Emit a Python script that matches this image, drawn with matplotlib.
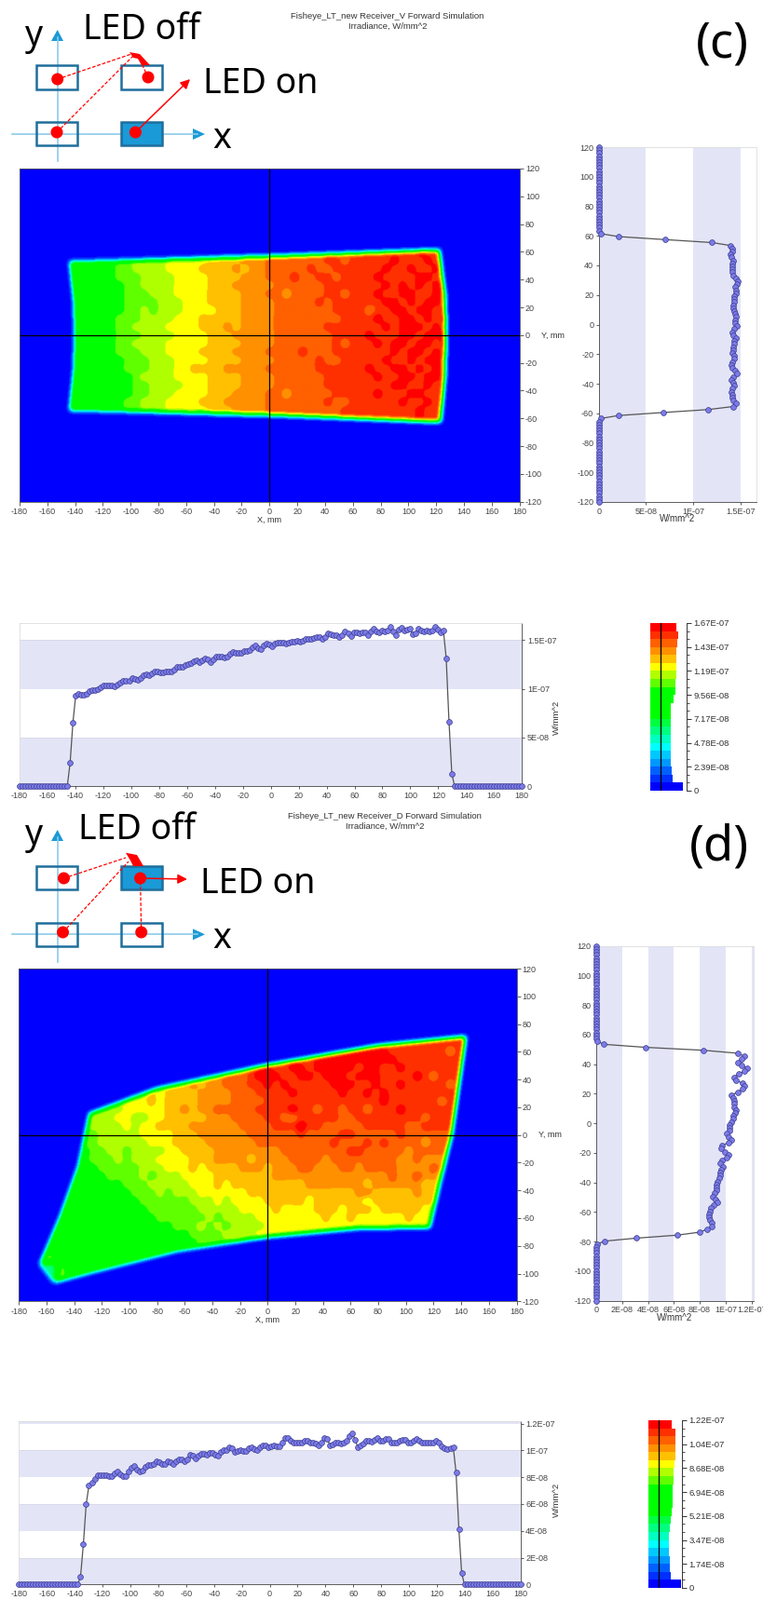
import numpy as np
import matplotlib
matplotlib.use('Agg')
import matplotlib.pyplot as plt
from matplotlib.colors import ListedColormap, BoundaryNorm
from matplotlib.path import Path
from matplotlib.patches import Ellipse, Rectangle, Polygon
from matplotlib.ticker import FixedLocator, FixedFormatter

W, H = 820, 1718
TICKFONT = 'Liberation Sans'
plt.rcParams['font.family'] = [TICKFONT, 'DejaVu Sans']
plt.rcParams['axes.unicode_minus'] = False

BAND_COLORS = ['#0000FF', '#0030FF', '#0060FF', '#0098FF', '#00C8FF', '#00FFFF', '#00FFC0', '#00FF80', '#00FF40',
               '#00FF00', '#00FF00', '#00FF00', '#00FF00', '#60FF00', '#B0FF00', '#FFFF00', '#FFC000', '#FF9000',
               '#FF6000', '#FF3000', '#FF0000']

# ---------- panel (c) values ----------
MAP_C_X0, MAP_C_Y0 = -150, 66     # mm of first column / first row, 6 mm steps
MAP_C_ROWS = [
 "cccccc cdddee efffff gggghh hiiiii iijiji jjjjjj jkjjkk",
 "cccccc cdddee efffff gggghh hiiiii iijiji jjjjjj jkjjkk",
 "cccccc cddeee efffff gggghh hiiiii iijjij jjjjkj jjkjkk",
 "cccccc cddeee effffg ggghgh hiiiii jiijjj jjjkjj kjjkjk",
 "cccccc cdddee eeffff gggghh hiiiji ijjijj jjkjjj jkkjjk",
 "cccccc ccddee eeffff ggghhh hhiiii iijjjj jjjkjk jkjkkj",
 "cccccc ccddde eeffff gggghh hiihii iijjij jjkjjk kjjkjk",
 "cccccc ccdddd eeefff gggghh hhiiii ijijjj jjjkkj kjkkjk",
 "cccccc ccdded eeefff fggghh hhiiii iiijjj jijjkk jkkjkk",
 "cccccc cdddee eefffg gggghh hhiiii iiiijj jjkjjk kjkjkk",
 "cccccc cddeee effffg gghghh hhiiii iijjjj jjjkjk kkjkjk",
 "cccccc cdddee eeffff ggghhh hhiiii iiijjj jkjjjk kjkkkk",
 "cccccc cddeee efffff gggghh hhiiii iiijij jjkjkk jkkjkk",
 "cccccc cdddee effffg ggghhh hiiiij iiijjj jjjjkj kkjkjk",
 "cccccc ccddde eeffff gggghh hhiiii ijiijj jjjkjj kjkkjk",
 "cccccc ccddde eeffgg gghhhh hiiiii ijjjjj jkjjkk jkjkjk",
 "cccccc cccdee eeffff gggghh hhiiii iijjjj jjkjjk kjkkjj",
 "cccccc cccdde eeefff gggghh hhiiii iijjjj jjjjkk jjkjkk",
 "cccccc cccdde eeffff ggghhh hiihii iiijjj jjkjjj kkjjkk",
 "cccccc ccddee effffg gghhhh hiiiii iijiij jjjjjk jjkjkk",
 "cccccc ccddee efffff ggghhh hiiiii iiiijj jjjjjj jkjjjk",
 "cccccc ccddee efffff ggghhh hiiiii iiiijj jjjjjj jkjjjk",
 "cccccc ccddee efffff ggghhh hiiiii iiiijj jjjjjj jkjjjk",
]
OUTLINE_C = [(-144, 53), (-141, 25), (-140, 0), (-141, -25), (-144, -54), (0, -57.5), (123, -62.5), (126, -30),
             (127, 0), (126, 30), (122, 61.5), (0, 57)]

PROFILE_X_C = [0.0] * 18 + [2.4, 6.5, 9.3,
 9.45, 9.35, 9.35, 9.5, 9.8, 9.9, 9.9, 9.95, 10.1, 10.3, 10.35, 10.35, 10.3, 10.25, 10.4, 10.65, 10.85,
 10.8, 10.8, 11.1, 11.05, 10.95, 11.1, 11.4, 11.5, 11.4, 11.55, 11.75, 11.75, 11.65, 11.7, 11.75, 11.8,
 11.8, 12.0, 12.2, 12.25, 12.2, 12.4, 12.5, 12.65, 12.85, 12.95, 12.75, 12.9, 13.1, 13.0, 12.75, 13.0,
 13.3, 13.3, 13.25, 13.2, 13.3, 13.6, 13.8, 13.7, 13.7, 13.7, 13.85, 13.9, 13.95, 14.2, 14.4, 14.15, 14.1,
 14.45, 14.6, 14.5, 14.35, 14.6, 14.7, 14.75, 14.7, 14.65, 14.7, 14.8, 14.85, 14.9, 14.8, 14.9, 15.1, 15.15,
 15.1, 15.2, 15.3, 15.25, 15.1, 15.3, 15.65, 15.6, 15.5, 15.45, 15.3, 15.45, 15.85, 15.7, 15.4, 15.75, 15.75, 15.7,
 15.75, 15.75, 15.45, 15.85, 16.2, 15.85, 15.75, 15.95, 15.85, 15.95, 16.3, 15.85, 15.5, 16.1, 16.25, 16.0, 16.1,
 16.15, 15.6, 15.7, 16.15, 16.0, 15.9, 16.0, 15.9, 16.0, 16.3, 16.1, 15.8, 16.0, 13.1, 6.6, 1.3]
PROFILE_Y_C = [0.0] * 29 + [0.2, 2.1, 7.0, 12.0,
 13.95, 14.15, 14.15, 13.95, 14.0, 14.2, 14.15, 14.15, 14.15, 14.15, 14.2, 14.5, 14.7, 14.6, 14.4, 14.5, 14.5, 14.3,
 14.3, 14.3, 14.2, 14.25, 14.35, 14.4, 14.5, 14.4, 14.45, 14.6, 14.3, 14.1, 14.2, 14.5, 14.3, 14.3, 14.2, 14.2,
 14.1, 14.35, 14.35, 14.1, 14.0, 14.1, 14.4, 14.6, 14.25, 14.05, 14.2, 14.3, 14.1, 14.0, 14.1, 14.15, 14.2, 14.5,
 14.2, 11.6, 6.8, 2.1, 0.2]
COLORBAR_C = [85, 90, 86, 85, 85, 85, 83, 82, 82, 76, 67, 67, 67, 66, 66, 66, 67, 67, 68, 72, 105]
COLORBAR_C_LABELS = ['0', '2.39E-08', '4.78E-08', '7.17E-08', '9.56E-08', '1.19E-07', '1.43E-07', '1.67E-07']

# ---------- panel (d) values ----------
MAP_D_X0, MAP_D_Y0 = -168, 78
C6 = "cccccc"
MAP_D_ROWS = [
 f"{C6} {C6} {C6} ggghhh iiijjj jjjjjj jjjjjj jjjjjj jjjjjj",
 f"{C6} {C6} {C6} ggghhh iiijjj jjjjjj jjjjjj jjjjjj jjjjjj",
 f"{C6} {C6} {C6} ggghhh iiijjj jjjkjk kkjjjj jjjjjj jjjjjj",
 f"{C6} {C6} {C6} ggghhh iiijjj jjjjjk kkkkkk kjjjjj jjijjj",
 f"{C6} {C6} {C6} ggghhh iijjjj jkjjkk kkkkkk kkjjjj jjjjjj",
 f"{C6} {C6} {C6} gghhhi iijkkj jkkjkk kkkjkk jjkjjj jjjjjj",
 f"{C6} {C6} ffgggg gghhhi iijkkk jjkkjk kkjkkk jjjjkj ijjjjj",
 f"{C6} {C6} fggggg ghghhi iijjkj kjjjjj kkkjjk jjkjjj jjijjj",
 f"{C6} deeeef ffgfgg gghhhh iiijjj jkjjjj jkjjkj kjjjjj jjjjjj",
 f"{C6} deeeef ffgfgg gghhhh iiiijj jjjjjj jjjjjj kjjjjj jijjjj",
 f"{C6} deeeef ffffgg hghhii iiijjj jkjjij jijjij jjkjjj jjjjji",
 f"{C6} deeeff eeffgg ggghhh iiiijj iijjjj jiijjj jjjjji jjjjjj",
 f"{C6} deeeef effggg ghhhhh hiiiij jjkjji iiiijj jjjiij jjjiii",
 f"{C6} ddeeee effffg gghhhh hhiiii iijiii ijjiii iijiii iiiiii",
 f"{C6} ddeeee eefffg ggghhh hhhiii iiiiii jiiiji jiiiih iiiiii",
 f"{C6} cddeed eeeeff gggghh hhhhhh iiiiii iijjii iiihii iihiii",
 f"{C6} cddded eeefff fggghh hhghhh hiiiih iiiiii iihhih hhiiii",
 f"{C6} ccdddd deeeff fgfggg ghhhgh hhiihh hiihii iihhhh ihhiii",
 f"{C6} cccddd dedeee ffffgg gggggh hhhhhh hhhhhh hihhih hghhhh",
 f"{C6} cccccd ddeeee efffgf gggggg ggghhh hhhhgh hhhhhg gghhhh",
 f"{C6} {C6} dddede eeffff ffgggg gggggg ggghhg gggghg gggggg",
 f"{C6} {C6} cddddd deeefe ffffgg gggfgg ggggfg gggggg gggggg",
 f"{C6} {C6} ccdddd ddeeee effffg ffffgg gfgggf gggggf ffffff",
 f"{C6} {C6} cccddd dddede eeefff fffffg ffgfff fffgff ffffff",
 f"{C6} {C6} cccccd ddeded eeeeff ffffff ffffff ffffff ffffff",
 f"{C6} {C6} {C6} cdddde eeefff ffffff ffffff ffffff ffffff",
 f"{C6} {C6} {C6} ccdddd eeefff ffffff ffffff ffffff ffffff",
 f"{C6} {C6} {C6} {C6} {C6} {C6} {C6} {C6} {C6}",
 f"{C6} {C6} {C6} {C6} {C6} {C6} {C6} {C6} {C6}",
 f"888ccc {C6} {C6} {C6} {C6} {C6} {C6} {C6} {C6}",
 f"888ccc {C6} {C6} {C6} {C6} {C6} {C6} {C6} {C6}",
 f"888ccc {C6} {C6} {C6} {C6} {C6} {C6} {C6} {C6}",
 f"888ccc {C6} {C6} {C6} {C6} {C6} {C6} {C6} {C6}",
]
OUTLINE_D = [(-129, 15), (-80, 33), (0, 50), (80, 64), (143, 70.5), (133, 0), (124, -37), (117, -67), (64, -68),
             (0, -74), (-65, -84), (-129, -100), (-155, -107), (-165, -94), (-150, -59), (-137, -23)]

PROFILE_X_D = [0.0] * 22 + [0.6, 3.0, 5.98, 7.4, 7.6, 7.9,
 8.15, 8.15, 8.15, 8.15, 8.1, 8.05, 8.3, 8.4, 8.2, 8.05, 8.1, 8.4, 8.7, 8.85, 8.6, 8.4, 8.5, 8.8, 8.9, 8.9, 9.0, 9.2,
 9.1, 8.95, 9.0, 9.2, 9.1, 8.95, 9.2, 9.3, 9.35, 9.2, 9.35, 9.65, 9.6, 9.4, 9.6, 9.75, 9.75, 9.7, 9.8, 9.8, 9.7, 9.6,
 9.9, 10.0, 10.05, 10.2, 10.15, 9.9, 9.95, 10.05, 9.95, 9.95, 10.15, 10.2, 10.1, 10.05, 10.2, 10.35, 10.35, 10.25,
 10.3, 10.4, 10.3, 10.3, 10.6, 10.95, 10.95, 10.7, 10.55, 10.55, 10.55, 10.55, 10.75, 10.7, 10.6, 10.55, 10.5, 10.35,
 10.55, 10.9, 10.85, 10.4, 10.45, 10.6, 10.55, 10.5, 10.6, 10.7, 11.1, 11.3, 10.8, 10.2, 10.4, 10.5, 10.7, 10.7,
 10.65, 10.8, 10.95, 10.7, 10.7, 10.85, 10.85, 10.55, 10.55, 10.55, 10.75, 10.8, 10.8, 10.55, 10.55, 10.7, 10.85,
 10.7, 10.55, 10.55, 10.55, 10.55, 10.6, 10.7, 10.6, 10.3, 10.15, 10.1, 10.15, 10.25, 8.35, 4.15, 0.85]
PROFILE_Y_D = [0.0] * 32 + [0.1, 0.6, 3.8, 8.3,
 10.97, 11.42, 11.23, 10.92, 11.23, 11.64, 11.47, 10.99, 10.63, 10.78, 11.28, 11.42, 11.28, 10.94, 10.46, 10.56,
 10.66, 10.63, 10.63, 10.78, 10.73, 10.61, 10.56, 10.44, 10.3, 10.3, 10.32, 10.1, 10.2, 10.46, 10.2, 9.7, 9.65,
 9.96, 10.22, 10.1, 9.7, 9.55, 9.77, 9.62, 9.58, 9.6, 9.53, 9.34, 9.29, 9.29, 9.29, 9.17, 9.02, 9.24, 9.34, 9.07,
 8.88, 8.81, 8.69, 8.74, 8.78, 8.93, 8.93, 8.57, 7.99, 6.24, 3.1, 0.62, 0.1]
COLORBAR_D = [76, 88, 88, 88, 88, 84, 83, 82, 80, 79, 78, 76, 73, 70, 68, 68, 68, 69, 71, 73, 105]
COLORBAR_D_LABELS = ['0', '1.74E-08', '3.47E-08', '5.21E-08', '6.94E-08', '8.68E-08', '1.04E-07', '1.22E-07']

TICKS_XY = list(range(-180, 181, 20))
TICKS_YY = list(range(-120, 121, 20))

fig = plt.figure(figsize=(W / 100, H / 100), dpi=100, facecolor='white')


def axpx(l, t, r, b, **kw):
    return fig.add_axes([l / W, 1 - b / H, (r - l) / W, (b - t) / H], **kw)


def field(rows, x0, y0, outline):
    clean = [r.replace(' ', '') for r in rows]
    n = max(len(r) for r in clean)
    grid = np.array([[int(c, 36) for c in r.ljust(n, r[-1])] for r in clean], float)
    xs = x0 + 6.0 * np.arange(n)
    ys = y0 - 6.0 * np.arange(len(clean))
    fx = np.arange(-180, 180.01, 0.5)
    fy = np.arange(120, -120.01, -0.5)
    a = np.array([np.interp(fx, xs, r) for r in grid])
    v = np.array([np.interp(fy, ys[::-1], c[::-1]) for c in a.T]).T
    gx, gy = np.meshgrid(fx, fy)
    inside = Path(list(outline) + [outline[0]]).contains_points(np.c_[gx.ravel(), gy.ravel()]).reshape(gx.shape)

    def blur(z, k):
        ker = np.ones(k) / k
        pad = k
        z = np.pad(z, pad, mode='edge')
        z = np.apply_along_axis(lambda s: np.convolve(s, ker, 'same'), 0, z)
        z = np.apply_along_axis(lambda s: np.convolve(s, ker, 'same'), 1, z)
        return z[pad:-pad, pad:-pad]
    mask = blur(blur(inside.astype(float), 9), 7)
    smooth = blur(blur(v, 9), 7)
    # local contrast so that single speckled cells still cross a colour band
    crisp = smooth + 1.3 * (smooth - blur(smooth, 27))
    return crisp * mask


def heatmap(box, rows, x0, y0, outline):
    ax = axpx(*box)
    z = field(rows, x0, y0, outline)
    cmap = ListedColormap(BAND_COLORS)
    norm = BoundaryNorm(np.arange(-0.5, 21), 21, clip=True)
    ax.imshow(z, extent=(-180, 180, -120, 120), aspect='auto', cmap=cmap, norm=norm,
              interpolation='bilinear', interpolation_stage='rgba')
    ax.axhline(0, color='black', lw=0.9)
    ax.axvline(0, color='black', lw=0.9)
    ax.set_xlim(-180, 180)
    ax.set_ylim(-120, 120)
    ax.set_xticks(TICKS_XY)
    ax.yaxis.tick_right()
    ax.set_yticks(TICKS_YY)
    ax.tick_params(length=3, width=0.6, labelsize=6.5, colors='#444444', pad=1.5)
    for s in ax.spines.values():
        s.set_linewidth(0.6)
        s.set_color('#555555')
    ax.set_xlabel('X, mm', fontsize=6.5, color='#333333', labelpad=0)
    ax.text(1.0435, 0.5, 'Y, mm', transform=ax.transAxes, fontsize=6.5, color='#333333', va='center', ha='left')
    return ax


def style_profile(ax):
    ax.tick_params(length=2.5, width=0.6, labelsize=6.5, colors='#444444', pad=1.5)
    for s in ax.spines.values():
        s.set_color('#DDDDDD')
        s.set_linewidth(0.6)


MARK = dict(marker='o', ms=4.2, mfc='#7B7BE8', mec='#3A3A8C', mew=0.5, color='#555555', lw=0.9, clip_on=False, zorder=4)
SHADE = '#E3E5F7'


def profile_x(box, values, top, shade, ticks, labels):
    ax = axpx(*box)
    x = np.linspace(-180, 180, 180)
    vals = np.array(list(values) + [0.0] * (180 - len(values))) * 1e-8
    for a, b in shade:
        ax.axhspan(a, b, color=SHADE, lw=0)
        ax.axhline(b, color='#D8D8E4', lw=0.6)
    ax.plot(x, vals, **MARK)
    ax.set_xlim(-180, 180)
    ax.set_ylim(0, top)
    ax.set_xticks(TICKS_XY)
    ax.yaxis.tick_right()
    ax.set_yticks(ticks)
    ax.set_yticklabels(labels)
    style_profile(ax)
    ax.spines['right'].set_color('#444444')
    ax.spines['bottom'].set_color('#444444')
    return ax


def profile_y(box, values, right, shade, ticks, labels):
    ax = axpx(*box)
    y = np.linspace(120, -120, 120)
    vals = np.array(list(values) + [0.0] * (120 - len(values))) * 1e-8
    for a, b in shade:
        ax.axvspan(a, b, color=SHADE, lw=0)
    ax.plot(vals, y, **MARK)
    ax.set_ylim(-120, 120)
    ax.set_xlim(0, right)
    ax.set_yticks(TICKS_YY)
    ax.set_xticks(ticks)
    ax.set_xticklabels(labels)
    style_profile(ax)
    ax.spines['left'].set_color('#444444')
    ax.spines['bottom'].set_color('#444444')
    ax.set_xlabel('W/mm^2', fontsize=7, color='#333333', labelpad=-1)
    return ax


def colorbar(box, widths, top, labels, line_x):
    ax = axpx(*box)
    edges = np.linspace(0, top, 22)
    ax.barh(edges[:-1], widths[::-1], height=np.diff(edges), align='edge', color=BAND_COLORS, lw=0)
    ax.axvline(line_x, color='black', lw=0.9)
    ax.set_ylim(0, top)
    ax.set_xlim(0, 3 * (box[2] - box[0]))
    ax.yaxis.tick_right()
    major = np.linspace(0, top, 8)
    ax.yaxis.set_major_locator(FixedLocator(major))
    ax.yaxis.set_major_formatter(FixedFormatter(labels))
    ax.yaxis.set_minor_locator(FixedLocator(np.linspace(0, top, 22)))
    ax.tick_params(axis='y', which='major', length=3.5, width=0.7, labelsize=6.8, colors='#333333', pad=2)
    ax.tick_params(axis='y', which='minor', length=2, width=0.6, colors='#333333')
    ax.set_xticks([])
    for k in ('top', 'left', 'bottom'):
        ax.spines[k].set_visible(False)
    ax.spines['right'].set_color('#333333')
    ax.spines['right'].set_linewidth(0.7)
    return ax


# panel (c)
heatmap((21, 181, 557.6, 538.7), MAP_C_ROWS, MAP_C_X0, MAP_C_Y0, OUTLINE_C)
profile_y((642.7, 158, 811.7, 539), PROFILE_Y_C, 1.667e-7, [(0, 5e-8), (1e-7, 1.5e-7)],
          [0, 5e-8, 1e-7, 1.5e-7], ['0', '5E-08', '1E-07', '1.5E-07'])
profile_x((21, 669.3, 560.3, 844.3), PROFILE_X_C, 1.67e-7, [(0, 5e-8), (1e-7, 1.5e-7)],
          [0, 5e-8, 1e-7, 1.5e-7], ['0', '5E-08', '1E-07', '1.5E-07'])
colorbar((698, 669, 736.7, 849), COLORBAR_C, 1.67e-7, COLORBAR_C_LABELS, 34)

# panel (d)
heatmap((20.3, 1040, 554.5, 1397.3), MAP_D_ROWS, MAP_D_X0, MAP_D_Y0, OUTLINE_D)
profile_y((640, 1015.7, 809, 1396.7), PROFILE_Y_D, 1.217e-7,
          [(0, 2e-8), (4e-8, 6e-8), (8e-8, 1e-7), (1.2e-7, 1.217e-7)],
          [0, 2e-8, 4e-8, 6e-8, 8e-8, 1e-7, 1.2e-7], ['0', '2E-08', '4E-08', '6E-08', '8E-08', '1E-07', '1.2E-07'])
profile_x((20.3, 1525.7, 558.7, 1701.3), PROFILE_X_D, 1.22e-7,
          [(0, 2e-8), (4e-8, 6e-8), (8e-8, 1e-7), (1.2e-7, 1.22e-7)],
          [0, 2e-8, 4e-8, 6e-8, 8e-8, 1e-7, 1.2e-7], ['0', '2E-08', '4E-08', '6E-08', '8E-08', '1E-07', '1.2E-07'])
colorbar((695.7, 1525, 732, 1705), COLORBAR_D, 1.22e-7, COLORBAR_D_LABELS, 33)

# ---------- schematic overlay in pixel coordinates ----------
ov = fig.add_axes([0, 0, 1, 1], zorder=10)
ov.set_xlim(0, W)
ov.set_ylim(H, 0)
ov.axis('off')
ov.patch.set_alpha(0)
BLUE, DARK, PALE = '#1A9AD6', '#1F6E9C', '#8CCBE8'
BIG = ['Noto Sans', 'DejaVu Sans']


def arrow(p, q, color, lw, ms, ls='-'):
    ov.annotate('', xy=q, xytext=p, arrowprops=dict(arrowstyle='-|>', color=color, lw=lw, ls=ls, mutation_scale=ms,
                                                    shrinkA=0, shrinkB=0))


def schematic(dy, yax, xax_y, boxes, filled, dots, dashes, head, solid):
    ov.plot([61.7, 61.7], [yax[0], yax[1] + 8], color=PALE, lw=1.2)
    ov.plot([13, 212], [xax_y, xax_y], color=PALE, lw=1.2)
    ov.add_patch(Polygon([(55, yax[1] + 12), (68, yax[1] + 12), (61.7, yax[1])], color=BLUE, lw=0))
    ov.add_patch(Polygon([(207, xax_y - 6), (207, xax_y + 6), (220, xax_y)], color=BLUE, lw=0))
    for i, (l, t, r, b) in enumerate(boxes):
        ov.add_patch(Rectangle((l, t), r - l, b - t, fc=BLUE if i == filled else (1, 1, 1, 0),
                               ec=DARK, lw=1.8, zorder=3))
    for p, q in dashes:
        ov.plot([p[0], q[0]], [p[1], q[1]], color='red', lw=0.9, ls=(0, (3, 1.5)), zorder=5)
    ov.add_patch(Polygon(head, color='red', lw=0, zorder=5))
    arrow(solid[0], solid[1], 'red', 1.1, 15)
    for x, y in dots:
        ov.add_patch(Ellipse((x, y), 13, 13, color='red', lw=0, zorder=6))


schematic(0, (173, 32), 144, [(39, 70, 83, 96), (130, 70, 174, 96), (39, 131, 83, 156), (130, 131, 174, 156)], 3,
          [(61.7, 85), (159, 83), (61, 142), (145.4, 142)],
          [((61.7, 85), (141, 58)), ((61, 142), (143, 60)), ((159, 83), (150, 64))],
          [(139, 56), (150, 58), (161, 70), (152, 70), (148, 63), (143, 62)], ((145.4, 142), (204, 85)))
schematic(860, (1033, 891), 1003.3, [(39, 930, 83, 955), (130, 930, 174, 955), (39, 991, 83, 1016), (130, 991, 174, 1016)], 1,
          [(68.5, 943), (150.6, 943), (67.5, 1001), (151.7, 1001)],
          [((68.5, 943), (135, 921)), ((67.5, 1001), (138, 925)), ((151.7, 1001), (150.6, 943))],
          [(135, 915.7), (147, 918), (154, 930), (143, 930), (140, 924)], ((150.6, 943), (201, 944)))


def big(x, y, s, size=27, ha='left', va='baseline'):
    ov.text(x, y, s, fontsize=size, family=BIG, color='black', ha=ha, va=va)


big(89, 42, 'LED off')
big(218, 100, 'LED on')
big(37, 49, 'y', ha='center')
big(238, 159, 'x', ha='center')
big(775, 48, '(c)', size=38, ha='center', va='center')
big(84, 900.7, 'LED off')
big(215, 959, 'LED on')
big(37, 907, 'y', ha='center')
big(238, 1018, 'x', ha='center')
big(772, 910, '(d)', size=38, ha='center', va='center')

for cx, y1, y2, t in ((416, 17, 28, 'Fisheye_LT_new Receiver_V Forward Simulation'),
                      (413, 876.5, 887.5, 'Fisheye_LT_new Receiver_D Forward Simulation')):
    ov.text(cx, y1, t, fontsize=6.8, color='#333333', ha='center', va='center')
    ov.text(cx, y2, 'Irradiance, W/mm^2', fontsize=6.8, color='#333333', ha='center', va='center')

ov.text(597, 770, 'W/mm^2', fontsize=6.8, color='#333333', rotation=90, ha='center', va='center')
ov.text(597, 1610, 'W/mm^2', fontsize=6.8, color='#333333', rotation=90, ha='center', va='center')

fig.savefig('out.png', dpi=100, facecolor='white')
